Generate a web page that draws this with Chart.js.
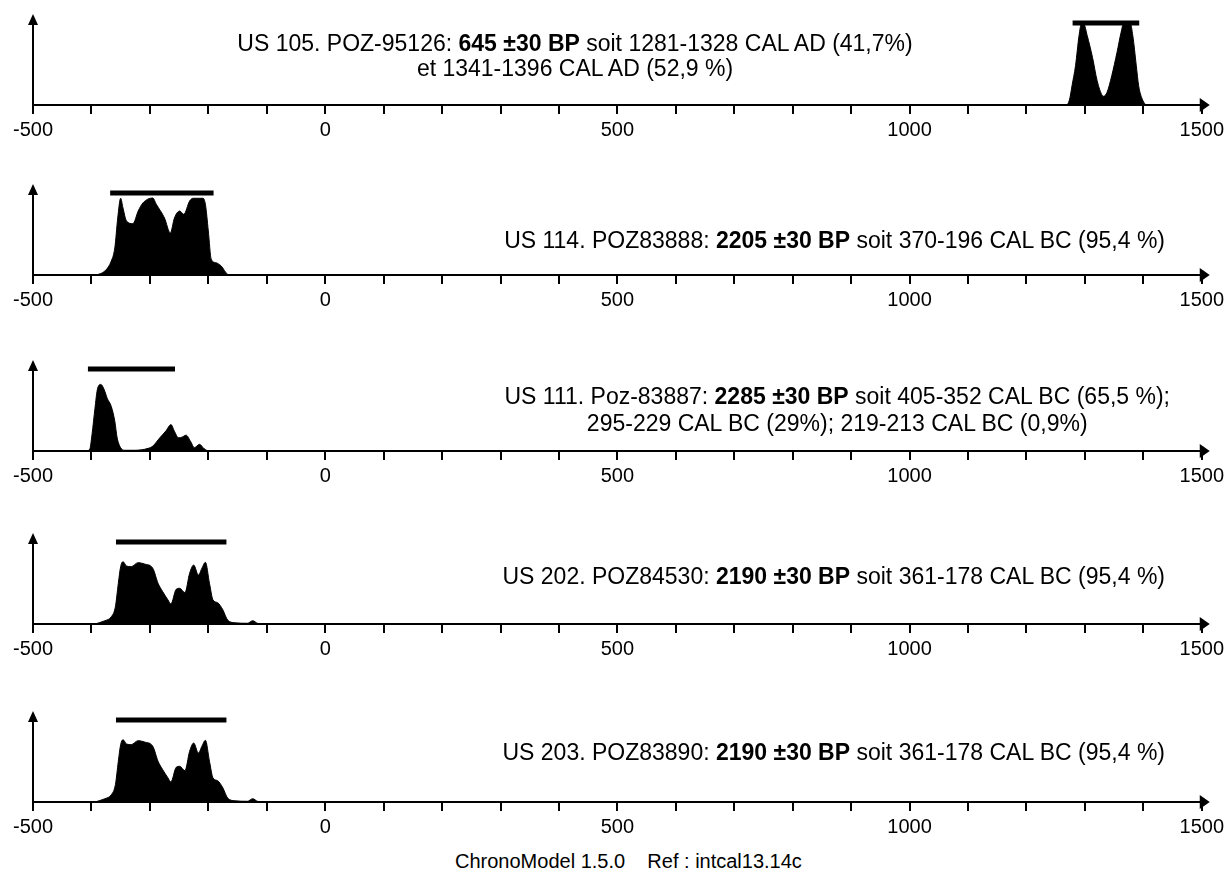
<!DOCTYPE html>
<html><head><meta charset="utf-8">
<script src="https://cdn.jsdelivr.net/npm/chart.js@4.4.1/dist/chart.umd.min.js"></script>
<style>
body{margin:0;background:#fff;}
#page{position:relative;width:1228px;height:875px;overflow:hidden;font-family:"Liberation Sans",Arial,sans-serif;color:#000;background:#fff;}
.panel{position:absolute;left:0;width:1228px;}
.note{position:absolute;font-size:23px;line-height:25px;white-space:nowrap;}
.footer{position:absolute;font-size:20px;line-height:24px;white-space:pre;}
</style></head><body>
<div id="page">
  <div class="note" style="left:575px;top:31px;transform:translateX(-50%);text-align:center;">US 105. POZ-95126: <b>645 ±30 BP</b> soit 1281-1328 CAL AD (41,7%)<br>et 1341-1396 CAL AD (52,9 %)</div>
  <div class="note" style="right:63px;top:228px;text-align:right;">US 114. POZ83888: <b>2205 ±30 BP</b> soit 370-196 CAL BC (95,4 %)</div>
  <div class="note" style="right:58px;top:383px;text-align:center;line-height:27px;">US 111. Poz-83887: <b>2285 ±30 BP</b> soit 405-352 CAL BC (65,5 %);<br>295-229 CAL BC (29%); 219-213 CAL BC (0,9%)</div>
  <div class="note" style="right:63px;top:564px;text-align:right;">US 202. POZ84530: <b>2190 ±30 BP</b> soit 361-178 CAL BC (95,4 %)</div>
  <div class="note" style="right:63px;top:740px;text-align:right;">US 203. POZ83890: <b>2190 ±30 BP</b> soit 361-178 CAL BC (95,4 %)</div>
  <div class="footer" style="left:455px;top:849px;">ChronoModel 1.5.0    Ref : intcal13.14c</div>
</div>
<script>
// ---- data (years AD, negative = BC; density relative, 0-100 scale) ----
const tickLabels = [-500, 0, 500, 1000, 1500];
const xMin = -500, xMax = 1500, minorStep = 100;

const years1 = [1270,1274,1278,1284,1290,1294,1298,1304,1313,1321,1330,1332,1338,1346,1355,1362,1366,1378,1382,1388,1392,1398,1404];
const dens1  = [0,6.6,21.2,43.2,76.2,89,89,76.2,52.4,26.7,10.2,9.6,14,32.2,57.9,79.9,89,89,76.2,43.2,21.2,6.6,0];
const hpd1   = [1279, 1393];

const years2 = [-391,-377,-366,-360,-355,-350,-346,-340,-329,-320,-312,-295,-289,-275,-265,-258,-249,-242,-232,-226,-209,-205,-200,-195,-187,-178,-167,-160];
const dens2  = [0,4.4,15.4,29.7,62.6,84.3,73.6,59.3,56.4,70.3,79.1,84.6,77.7,62.6,46.2,62.6,70.3,66.7,81.3,84.3,84.3,77.7,48.4,17.3,13.5,9.9,0.8,0];
const hpd2   = [-368, -191];

const years3 = [-410,-403,-399,-394,-390,-384,-378,-373,-366,-360,-356,-350,-343,-326,-303,-295,-283,-272,-264,-258,-251,-245,-238,-230,-224,-215,-208,-201];
const dens3  = [0,1.8,18.2,46.7,67.1,73.2,67.1,57.9,48.9,32.6,14.5,3.6,0.8,0.8,2.9,5.4,14.5,22.5,29,21.7,14.5,15.2,17.4,10.1,3.6,7.3,2.9,0];
const hpd3   = [-406, -257];

const years4 = [-394,-377,-366,-359,-354,-350,-346,-340,-332,-320,-309,-295,-286,-278,-269,-264,-255,-249,-240,-232,-225,-217,-211,-205,-198,-192,-184,-175,-167,-155,-133,-124,-116,-104];
const dens4  = [0,3.6,8,19,44.7,63,68.5,63.7,63,67.4,65.9,61.2,44.7,35.5,26.4,22,38.1,39.2,34.4,55.7,64.8,53.8,61.2,67.8,44.7,26.4,23.4,15.4,4.4,1.4,0.8,3.6,0.8,0];
const hpd4   = [-358, -169];

const years5 = [-394,-377,-366,-359,-354,-350,-346,-340,-332,-320,-309,-295,-286,-278,-269,-264,-255,-249,-240,-232,-225,-217,-211,-205,-198,-192,-184,-175,-167,-155,-133,-124,-116,-104];
const dens5  = [0,3.6,8,19,44.7,63,68.5,63.7,63,67.4,65.9,61.2,44.7,35.5,26.4,22,38.1,39.2,34.4,55.7,64.8,53.8,61.2,67.8,44.7,26.4,23.4,15.4,4.4,1.4,0.8,3.6,0.8,0];
const hpd5   = [-358, -169];

const hpdLevel = 90;

// ---- layout ----
const baselines = [105, 275, 451, 624, 802];
const AXIS_H = 91, CANVAS_H = 160;
const FONT = '"Liberation Sans", Arial, sans-serif';

const arrowPlugin = {
  id: 'arrows',
  afterDraw(chart) {
    const {ctx} = chart;
    const {left, right, top, bottom} = chart.chartArea;
    ctx.save();
    ctx.strokeStyle = '#000'; ctx.fillStyle = '#000'; ctx.lineWidth = 2;
    ctx.beginPath(); ctx.moveTo(left, bottom); ctx.lineTo(left, top + 8); ctx.stroke();
    ctx.beginPath(); ctx.moveTo(left, top); ctx.lineTo(left - 5, top + 11); ctx.lineTo(left + 5, top + 11); ctx.closePath(); ctx.fill();
    ctx.beginPath(); ctx.moveTo(left, bottom); ctx.lineTo(right + 2, bottom); ctx.stroke();
    ctx.beginPath(); ctx.moveTo(right + 8, bottom); ctx.lineTo(right - 2, bottom - 7); ctx.lineTo(right - 2, bottom + 7); ctx.closePath(); ctx.fill();
    ctx.restore();
  }
};

const panels = [
  {years: years1, dens: dens1, hpd: hpd1},
  {years: years2, dens: dens2, hpd: hpd2},
  {years: years3, dens: dens3, hpd: hpd3},
  {years: years4, dens: dens4, hpd: hpd4},
  {years: years5, dens: dens5, hpd: hpd5}
];

const page = document.getElementById('page');
panels.forEach((p, idx) => {
  const wrap = document.createElement('div');
  wrap.className = 'panel';
  wrap.style.height = CANVAS_H + 'px';
  const cv = document.createElement('canvas');
  cv.width = 1228; cv.height = CANVAS_H;
  cv.style.width = '1228px'; cv.style.height = CANVAS_H + 'px';
  wrap.appendChild(cv);
  page.insertBefore(wrap, page.firstChild);
  const chart = new Chart(cv, {
    type: 'line',
    data: {datasets: [
      {data: p.years.map((x, i) => ({x, y: p.dens[i]})), fill: 'origin', backgroundColor: '#000', borderColor: '#000', borderWidth: 1, pointRadius: 0, cubicInterpolationMode: 'monotone'},
      {data: p.hpd.map(x => ({x, y: hpdLevel})), borderColor: '#000', borderWidth: 5, pointRadius: 0, fill: false, borderCapStyle: 'butt'}
    ]},
    options: {
      responsive: false, animation: false, devicePixelRatio: 1,
      layout: {padding: {left: 33, right: 25, top: 10, bottom: 0}},
      plugins: {legend: {display: false}, tooltip: {enabled: false}},
      scales: {
        x: {type: 'linear', min: xMin, max: xMax,
            ticks: {stepSize: minorStep, autoSkip: false, maxRotation: 0, minRotation: 0, color: '#000', padding: 4,
                    font: {family: FONT, size: 20},
                    callback: v => tickLabels.includes(v) ? String(v) : ''},
            grid: {drawOnChartArea: false, drawTicks: true, tickLength: 9, color: '#000', lineWidth: 2},
            border: {display: true, color: '#000', width: 2}},
        y: {display: false, min: 0, max: 100}
      }
    },
    plugins: [arrowPlugin]
  });
  const xh = chart.scales.x.height;
  chart.options.layout.padding.top = CANVAS_H - xh - AXIS_H;
  chart.update('none');
  wrap.style.top = (baselines[idx] - chart.chartArea.bottom) + 'px';
});
</script>
</body></html>
